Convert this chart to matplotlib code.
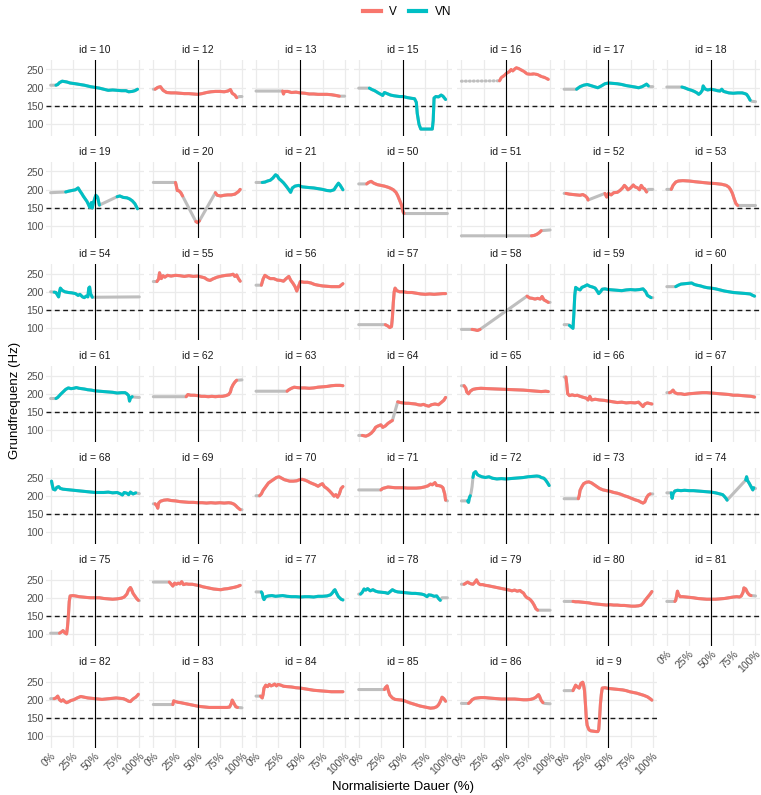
"""
plot.py - Grundfrequenz-Verläufe je Sprecher (facet grid)
"""
import numpy as np
import matplotlib
matplotlib.use("Agg")
import matplotlib.pyplot as plt
from matplotlib.lines import Line2D

plt.rcParams["font.family"] = ["Liberation Sans", "DejaVu Sans"]

# Panel order and group (V / VN) per id
ids = [10, 12, 13, 15, 16, 17, 18,
       19, 20, 21, 50, 51, 52, 53,
       54, 55, 56, 57, 58, 59, 60,
       61, 62, 63, 64, 65, 66, 67,
       68, 69, 70, 71, 72, 73, 74,
       75, 76, 77, 78, 79, 80, 81,
       82, 83, 84, 85, 86, 9]
groups = ["VN", "V", "V", "VN", "V", "VN", "VN",
          "VN", "V", "VN", "V", "V", "V", "V",
          "VN", "V", "V", "V", "V", "VN", "VN",
          "VN", "V", "V", "V", "V", "V", "V",
          "VN", "V", "V", "V", "VN", "V", "VN",
          "V", "V", "VN", "VN", "V", "V", "V",
          "V", "V", "V", "V", "V", "V"]
dotted_grey = [16]  # sparse interpolated frames show up as dots

x_ticks = [0, 25, 50, 75, 100]
x_ticklabels = ["0%", "25%", "50%", "75%", "100%"]
y_ticks = [100, 150, 200, 250]

# F0 contours: (x %, Hz) voiced; (x, Hz, 0) interpolated only; None = gap
f0_10 = [(0, 207, 0), (6, 207), (8, 209), (10, 214), (13, 218), (18, 216), (22, 213), (28, 211), (33, 209),
         (38, 207), (45, 203), (50, 201), (55, 199), (60, 196), (65, 193), (70, 194), (75, 193),
         (80, 192), (85, 192), (88, 189), (92, 190), (95, 192), (98, 196)]
f0_12 = [(0, 196, 0), (2, 196), (5, 201), (8, 203), (11, 193), (15, 187), (20, 186), (25, 186), (30, 185),
         (35, 184), (40, 184), (45, 183), (50, 182), (55, 184), (60, 187), (65, 189), (70, 190),
         (75, 190), (80, 189), (84, 191), (87, 195), (89, 185), (92, 180), (94, 173),
         (97, 176, 0), (100, 176, 0)]
f0_13 = [(0, 191, 0), (30, 191), (31, 183), (32, 190), (36, 190), (40, 187), (45, 188), (50, 186),
         (55, 185), (60, 183), (65, 183), (70, 182), (75, 182), (80, 182), (85, 181), (90, 179),
         (94, 177), (100, 177, 0)]
f0_15 = [(0, 199, 0), (12, 199), (15, 195), (18, 192), (22, 186), (25, 182), (27, 179), (29, 187),
         (32, 184), (36, 180), (40, 178), (46, 176), (50, 176), (55, 173), (60, 171), (63, 170),
         (65, 160), (66, 130), (68, 100), (70, 87), (83, 87), (84, 110), (85, 172), (87, 176),
         (90, 175), (93, 180), (95, 177), (98, 168)]
f0_16 = [(0, 218, 0), (43, 219), (45, 228), (48, 233), (51, 240), (54, 244), (56, 250), (58, 246),
         (60, 251), (62, 255), (65, 252), (68, 248), (71, 244), (74, 238), (78, 237), (82, 238),
         (86, 236), (90, 231), (94, 228), (98, 223)]
f0_17 = [(0, 196, 0), (14, 196), (18, 203), (22, 207), (26, 209), (30, 206), (34, 203), (38, 200),
         (42, 205), (46, 211), (50, 213), (55, 212), (60, 211), (65, 209), (70, 206), (75, 204),
         (80, 202), (84, 200), (88, 203), (91, 207), (93, 210), (95, 205), (97, 203, 0), (100, 203, 0)]
f0_18 = [(0, 202, 0), (17, 202), (20, 200), (24, 196), (28, 193), (31, 190), (34, 186), (36, 182),
         (38, 186), (40, 193), (41, 205), (43, 197), (46, 194), (50, 196), (54, 194), (57, 192),
         (60, 191), (62, 196), (64, 190), (67, 188), (70, 186), (75, 185), (80, 186), (85, 186),
         (88, 184), (90, 182), (92, 175), (94, 166), (96, 163, 0), (100, 162, 0)]
f0_19 = [(0, 192, 0), (17, 194), (20, 196), (24, 198), (28, 200), (31, 205), (33, 197), (35, 190),
         (37, 182), (39, 175), (41, 168), (43, 158), (44, 152), (45, 157), (46, 165), (47, 150),
         (48, 162), (50, 178), (51, 185), (53, 180), (55, 158), None, (75, 181), (78, 183),
         (82, 179), (86, 178), (89, 175), (92, 170), (95, 162), (98, 148)]
f0_20 = [(0, 220, 0), (25, 220), (26, 210), (27, 198), (29, 197), (31, 192), (33, 183), None,
         (48, 113), (50, 110), (52, 115), None, (70, 192), (72, 185), (76, 183), (80, 185),
         (84, 186), (88, 186), (92, 188), (96, 195), (98, 201)]
f0_21 = [(0, 220, 0), (7, 220), (10, 221), (13, 224), (16, 226), (19, 232), (22, 241), (24, 238),
         (26, 230), (28, 226), (31, 219), (34, 210), (37, 200), (39, 193), (41, 205), (44, 210),
         (48, 212), (52, 208), (56, 207), (60, 206), (65, 205), (70, 203), (75, 201), (80, 198),
         (84, 197), (88, 200), (90, 208), (93, 218), (95, 212), (98, 200)]
f0_50 = [(0, 216, 0), (9, 216), (11, 220), (14, 223), (17, 218), (21, 214), (25, 212), (29, 210),
         (33, 207), (36, 204), (39, 200), (42, 193), (44, 184), (46, 172), (48, 160), (50, 140),
         (51, 135), (100, 135, 0)]
f0_51 = [(0, 74, 0), (79, 74), (82, 75), (85, 78), (88, 83), (90, 88), (100, 90, 0)]
f0_52 = [(0, 190, 0), (2, 190), (6, 188), (10, 187), (14, 186), (18, 185), (21, 187), (24, 183),
         (26, 178), (27, 172), None, (46, 190), (48, 180), (50, 190), (53, 186), (56, 192),
         (60, 193), (63, 198), (66, 205), (68, 212), (70, 207), (72, 200), (75, 205), (78, 213),
         (80, 208), (83, 205), (85, 200), (87, 212), (89, 205), (91, 202), (93, 194),
         (95, 201, 0), (100, 201, 0)]
f0_53 = [(0, 201, 0), (5, 201), (7, 212), (10, 221), (13, 224), (18, 225), (25, 224), (32, 222),
         (40, 220), (48, 218), (55, 217), (62, 215), (67, 212), (70, 207), (72, 200), (74, 190),
         (76, 175), (78, 162), (80, 157), (100, 157, 0)]
f0_54 = [(0, 200, 0), (4, 199), (6, 198), (8, 190), (9, 186), (10, 200), (11, 210), (13, 204),
         (16, 200), (20, 198), (24, 197), (28, 195), (31, 190), (33, 193), (36, 186), (38, 184),
         (40, 188), (42, 186), (43, 210), (44, 213), (45, 195), (47, 185), (100, 186, 0)]
f0_55 = [(0, 228, 0), (4, 228), (6, 235), (7, 252), (9, 236), (11, 244), (13, 240), (16, 245),
         (20, 243), (25, 245), (30, 244), (35, 242), (40, 244), (45, 242), (50, 243), (55, 240),
         (58, 238), (61, 233), (64, 231), (67, 235), (72, 240), (77, 243), (82, 245), (87, 246),
         (90, 248), (92, 242), (94, 246), (96, 236), (98, 229)]
f0_56 = [(0, 218, 0), (6, 218), (8, 235), (10, 245), (13, 240), (16, 236), (20, 236), (24, 232),
         (28, 231), (31, 229), (34, 236), (37, 242), (39, 232), (42, 222), (44, 214), (46, 202),
         (48, 215), (50, 228), (54, 226), (58, 226), (62, 224), (66, 220), (70, 218), (75, 216),
         (80, 215), (85, 214), (90, 214), (94, 214), (96, 218), (98, 222)]
f0_57 = [(0, 110, 0), (28, 110, 0), (30, 110), (33, 106), (35, 102), (37, 105), (38, 130), (39, 170),
         (40, 200), (41, 210), (43, 203), (46, 200), (50, 200), (55, 198), (60, 198), (65, 196),
         (70, 194), (75, 193), (80, 194), (85, 193), (90, 194), (95, 195), (98, 195)]
f0_58 = [(0, 97, 0), (12, 97), (15, 96), (18, 94), (21, 97), None, (74, 188), (77, 183), (80, 182),
         (83, 180), (86, 182), (89, 180), (91, 187), (93, 178), (96, 174), (98, 171), (100, 171, 0)]
f0_59 = [(0, 110, 0), (5, 110, 0), (6, 108), (8, 104), (10, 100), (11, 140), (12, 190), (13, 212),
         (15, 208), (18, 205), (20, 212), (23, 215), (26, 219), (29, 215), (32, 213), (35, 210),
         (37, 203), (39, 195), (41, 200), (43, 207), (46, 208), (50, 206), (55, 205), (60, 204),
         (65, 203), (70, 205), (75, 206), (80, 205), (85, 206), (89, 208), (92, 200), (94, 190),
         (96, 187), (98, 184), (100, 184, 0)]
f0_60 = [(0, 214, 0), (10, 214), (13, 218), (16, 221), (20, 222), (24, 223), (28, 224), (31, 220),
         (34, 218), (38, 216), (42, 213), (46, 211), (50, 210), (55, 208), (60, 205), (65, 202),
         (70, 200), (75, 198), (80, 197), (85, 196), (90, 195), (94, 194), (97, 190), (99, 188)]
f0_61 = [(0, 187, 0), (6, 187), (8, 190), (11, 198), (14, 205), (17, 212), (20, 216), (23, 214),
         (26, 215), (29, 217), (32, 215), (35, 214), (38, 213), (42, 211), (46, 210), (50, 208),
         (55, 207), (60, 206), (65, 205), (70, 204), (75, 202), (80, 203), (84, 203), (86, 200),
         (88, 195), (89, 180), (90, 188), (92, 192), (94, 191, 0), (100, 190, 0)]
f0_62 = [(0, 192, 0), (37, 192), (39, 198), (42, 196), (46, 196), (50, 195), (54, 193), (58, 193),
         (62, 192), (66, 193), (70, 192), (74, 193), (78, 193), (82, 195), (85, 198), (87, 205),
         (88, 215), (90, 225), (92, 232), (94, 237), (100, 238, 0)]
f0_63 = [(0, 207, 0), (35, 207), (37, 211), (40, 215), (43, 218), (46, 217), (50, 216), (55, 216),
         (60, 215), (65, 216), (70, 218), (75, 219), (80, 220), (85, 222), (90, 223), (95, 223),
         (98, 222)]
f0_64 = [(0, 86, 0), (3, 86, 0), (4, 86), (8, 84), (11, 87), (14, 92), (17, 100), (19, 108), (21, 111),
         (23, 113), (25, 115), (27, 108), (30, 112), (33, 119), (36, 124), (38, 127), None,
         (44, 178), (47, 176), (50, 175), (53, 174), (56, 174), (60, 173), (64, 172), (67, 170),
         (70, 169), (73, 171), (76, 168), (79, 166), (82, 170), (86, 172), (90, 170), (93, 176),
         (96, 182), (98, 190)]
f0_65 = [(0, 222, 0), (3, 222), (5, 215), (6, 205), (8, 200), (10, 207), (13, 212), (17, 214),
         (22, 215), (30, 214), (40, 213), (50, 212), (60, 211), (70, 210), (80, 208), (85, 207),
         (90, 206), (95, 207), (98, 206)]
f0_66 = [(0, 246, 0), (2, 246), (3, 225), (4, 200), (6, 195), (9, 197), (12, 195), (15, 196),
         (18, 193), (22, 190), (25, 188), (27, 183), (29, 193), (31, 183), (35, 185), (40, 183),
         (45, 182), (50, 180), (55, 178), (60, 176), (65, 177), (70, 175), (75, 176), (80, 175),
         (84, 177), (87, 170), (89, 165), (91, 172), (94, 175), (97, 173), (99, 172)]
f0_67 = [(0, 203, 0), (3, 203), (5, 205), (7, 210), (9, 203), (12, 200), (16, 200), (20, 198),
         (25, 200), (30, 201), (35, 202), (40, 203), (45, 203), (50, 202), (55, 201), (60, 200),
         (65, 199), (70, 198), (75, 196), (80, 196), (85, 195), (90, 194), (95, 193), (99, 191)]
f0_68 = [(1, 240), (2, 228), (3, 218), (5, 216), (7, 223), (9, 225), (11, 220), (14, 218), (18, 217),
         (22, 216), (26, 215), (30, 214), (34, 213), (38, 212), (42, 211), (46, 210), (50, 209),
         (55, 209), (60, 209), (65, 210), (70, 208), (75, 209), (79, 205), (81, 202), (83, 209),
         (86, 207), (88, 203), (90, 210), (93, 205), (96, 208), (100, 206, 0)]
f0_69 = [(0, 178, 0), (2, 178), (4, 172), (5, 166), (6, 180), (8, 185), (12, 188), (16, 189),
         (20, 187), (25, 186), (30, 184), (35, 183), (40, 182), (45, 182), (50, 181), (55, 181),
         (60, 180), (65, 181), (70, 180), (75, 181), (80, 180), (85, 181), (88, 180), (91, 177),
         (93, 173), (95, 168), (98, 162), (100, 162, 0)]
f0_70 = [(0, 200, 0), (4, 200), (6, 205), (8, 215), (11, 225), (14, 235), (17, 240), (20, 245),
         (23, 250), (26, 252), (29, 248), (32, 244), (35, 242), (38, 240), (42, 240), (46, 241),
         (49, 244), (52, 245), (55, 243), (58, 240), (61, 236), (64, 233), (67, 230), (70, 226),
         (73, 231), (75, 233), (77, 225), (80, 220), (83, 213), (86, 205), (88, 199), (90, 203),
         (92, 196), (94, 205), (96, 220), (98, 225)]
f0_71 = [(0, 216, 0), (25, 216), (27, 220), (30, 222), (33, 224), (37, 223), (41, 222), (45, 222),
         (50, 222), (55, 221), (60, 221), (65, 221), (70, 222), (74, 224), (78, 227), (81, 232),
         (83, 230), (86, 236), (88, 228), (90, 228), (93, 226), (95, 222), (97, 205), (98, 188),
         (100, 186, 0)]
f0_72 = [(0, 186, 0), (7, 186), (8, 182), (9, 195), (10, 200), (11, 210, 0), (12, 225, 0), (13, 250),
         (14, 262), (16, 266), (18, 258), (20, 255), (23, 252), (27, 250), (31, 252), (35, 248),
         (40, 246), (45, 247), (50, 246), (55, 247), (60, 248), (65, 249), (70, 250), (75, 252),
         (80, 253), (85, 254), (88, 253), (90, 250), (93, 248), (95, 243), (97, 236), (99, 228)]
f0_73 = [(0, 192, 0), (16, 192), (17, 200), (18, 215), (20, 225), (22, 233), (25, 237), (28, 238),
         (31, 235), (34, 230), (37, 225), (40, 220), (44, 216), (48, 214), (52, 212), (56, 209),
         (60, 207), (64, 204), (68, 200), (72, 197), (76, 193), (80, 189), (84, 186), (87, 182),
         (89, 180), (91, 183), (93, 195), (95, 202), (97, 205), (100, 205, 0)]
f0_74 = [(0, 208, 0), (5, 208), (6, 193), (7, 205), (9, 213), (12, 215), (16, 214), (20, 215),
         (25, 214), (30, 214), (35, 213), (40, 212), (45, 211), (50, 210), (55, 208), (60, 205),
         (63, 203), (65, 198), (67, 192), (68, 188), None, (89, 243), (90, 252), (91, 242),
         (93, 234), (95, 225), (97, 216), (98, 222), (100, 220, 0)]
f0_75 = [(0, 103, 0), (10, 103), (12, 106), (14, 110), (16, 104), (18, 101), (19, 120), (20, 150),
         (21, 190), (22, 205), (25, 206), (28, 205), (32, 203), (36, 202), (40, 201), (45, 200),
         (50, 200), (55, 200), (60, 198), (65, 197), (70, 196), (75, 197), (80, 199), (83, 202),
         (86, 210), (88, 222), (90, 228), (91, 224), (93, 212), (95, 205), (97, 198), (99, 193),
         (100, 192, 0)]
f0_76 = [(0, 243, 0), (18, 243), (20, 238), (22, 232), (24, 240), (26, 237), (28, 240), (30, 238),
         (32, 244), (34, 236), (37, 238), (40, 237), (44, 237), (48, 235), (52, 233), (56, 230),
         (60, 228), (64, 226), (68, 224), (72, 223), (76, 222), (80, 224), (84, 225), (88, 227),
         (92, 229), (95, 231), (98, 234)]
f0_77 = [(0, 216, 0), (6, 216), (7, 212), (8, 200), (9, 195), (11, 203), (14, 205), (18, 206),
         (22, 204), (26, 205), (30, 206), (35, 204), (40, 203), (45, 203), (50, 202), (55, 203),
         (60, 203), (65, 202), (70, 204), (75, 204), (80, 205), (84, 208), (86, 213), (88, 220),
         (89, 222), (91, 212), (93, 203), (96, 196), (98, 194)]
f0_78 = [(0, 210, 0), (2, 210), (4, 215), (6, 224), (8, 221), (10, 225), (13, 219), (16, 222),
         (19, 218), (22, 216), (26, 215), (30, 214), (33, 212), (36, 218), (38, 222), (41, 218),
         (44, 216), (48, 215), (52, 214), (56, 213), (60, 212), (64, 212), (68, 211), (71, 210),
         (74, 208), (77, 203), (79, 208), (82, 207), (85, 204), (88, 205), (90, 198), (92, 193),
         (94, 200, 0), (100, 200, 0)]
f0_79 = [(0, 237, 0), (3, 237), (5, 240), (7, 243), (9, 240), (11, 238), (13, 237), (15, 242),
         (17, 249), (19, 240), (21, 236), (24, 236), (27, 234), (30, 233), (34, 231), (38, 229),
         (42, 227), (46, 225), (50, 223), (54, 221), (57, 219), (60, 221), (63, 218), (66, 220),
         (68, 216), (70, 213), (72, 205), (74, 200), (76, 198), (78, 194), (80, 188), (82, 180),
         (84, 170), (86, 166), (100, 166, 0)]
f0_80 = [(0, 190, 0), (10, 190), (13, 189), (16, 189), (20, 188), (24, 187), (28, 186), (32, 184),
         (36, 183), (40, 182), (44, 181), (48, 180), (52, 181), (56, 180), (60, 180), (64, 179),
         (68, 179), (72, 178), (76, 177), (80, 177), (84, 178), (87, 180), (89, 185), (91, 192),
         (93, 198), (95, 204), (97, 210), (99, 217)]
f0_81 = [(0, 190, 0), (9, 190), (10, 193), (11, 205), (12, 218), (13, 210), (15, 203), (18, 203),
         (22, 202), (26, 201), (30, 200), (35, 198), (40, 197), (45, 196), (50, 196), (55, 196),
         (60, 197), (65, 198), (70, 200), (75, 202), (79, 203), (82, 202), (84, 205), (86, 215),
         (87, 227), (89, 224), (91, 214), (93, 208), (95, 206), (100, 205, 0)]
f0_82 = [(0, 203, 0), (4, 203), (6, 205), (8, 210), (10, 200), (12, 196), (14, 200), (16, 195),
         (18, 192), (20, 194), (23, 198), (26, 200), (30, 205), (34, 209), (38, 207), (42, 205),
         (46, 204), (50, 203), (54, 202), (58, 201), (62, 202), (66, 203), (70, 204), (74, 205),
         (78, 204), (82, 203), (85, 200), (88, 196), (90, 195), (92, 200), (94, 204), (96, 207),
         (98, 212), (99, 215)]
f0_83 = [(0, 187, 0), (22, 187), (23, 197), (25, 195), (28, 193), (31, 192), (35, 190), (39, 188),
         (43, 186), (47, 184), (51, 182), (55, 181), (59, 180), (63, 179), (67, 179), (71, 179),
         (75, 179), (79, 179), (83, 179), (86, 180), (88, 190), (89, 199), (91, 190), (93, 181),
         (95, 179), (100, 178, 0)]
f0_84 = [(0, 210, 0), (5, 210), (7, 205), (8, 215), (9, 232), (11, 240), (13, 236), (15, 242),
         (17, 238), (19, 240), (21, 243), (23, 238), (25, 242), (28, 240), (31, 237), (35, 236),
         (40, 235), (45, 233), (50, 232), (55, 230), (60, 228), (65, 226), (70, 225), (75, 224),
         (80, 223), (85, 222), (90, 222), (95, 222), (98, 222)]
f0_85 = [(0, 228, 0), (29, 228), (30, 233), (32, 238), (33, 228), (35, 213), (38, 205), (41, 201),
         (45, 200), (49, 199), (53, 196), (57, 192), (61, 189), (65, 186), (69, 183), (73, 181),
         (77, 179), (81, 177), (85, 178), (88, 181), (90, 186), (92, 195), (94, 207), (96, 203),
         (98, 196)]
f0_86 = [(0, 190, 0), (8, 190), (10, 194), (12, 200), (15, 204), (18, 205), (22, 206), (26, 206),
         (30, 205), (35, 204), (40, 203), (45, 202), (50, 202), (55, 202), (60, 202), (65, 201),
         (70, 200), (74, 200), (78, 201), (81, 203), (84, 207), (86, 212), (87, 214), (88, 210),
         (90, 198), (92, 192), (94, 190, 0), (100, 189, 0)]
f0_9 = [(0, 225, 0), (10, 225), (11, 230), (13, 240), (15, 235), (17, 232), (19, 245), (21, 248),
        (22, 240), (23, 225), (24, 190), (25, 150), (26, 130), (28, 118), (30, 115), (33, 114),
        (36, 113), (38, 113), (39, 118), (40, 150), (41, 190), (42, 215), (43, 232), (46, 233),
        (50, 231), (54, 230), (58, 229), (62, 228), (66, 227), (70, 225), (74, 222), (78, 220),
        (82, 218), (86, 215), (90, 212), (94, 208), (97, 203), (99, 199)]

contours = [f0_10, f0_12, f0_13, f0_15, f0_16, f0_17, f0_18,
            f0_19, f0_20, f0_21, f0_50, f0_51, f0_52, f0_53,
            f0_54, f0_55, f0_56, f0_57, f0_58, f0_59, f0_60,
            f0_61, f0_62, f0_63, f0_64, f0_65, f0_66, f0_67,
            f0_68, f0_69, f0_70, f0_71, f0_72, f0_73, f0_74,
            f0_75, f0_76, f0_77, f0_78, f0_79, f0_80, f0_81,
            f0_82, f0_83, f0_84, f0_85, f0_86, f0_9]

COLORS = {"V": "#F8766D", "VN": "#00BFC4"}
GREY = "#BEBEBE"
GRID = "#EBEBEB"
TXT = "#4D4D4D"
LW = 2.2

# Layout (pixel units of the 761x795 output)
W, H = 761, 795
NCOL = 7
LEFT0, PITCH_X, PW = 46.2, 102.7, 97.5
TOP0, PITCH_Y, PH = 60.0, 102.0, 76.0


def draw_panel(ax, pts, colour, dotted=False):
    gx = [p[0] for p in pts if p is not None]
    gy = [p[1] for p in pts if p is not None]
    if dotted:
        ax.plot(gx, gy, color=GREY, lw=LW, ls=(0, (0.3, 1.0)),
                dash_capstyle="round", zorder=3)
    else:
        ax.plot(gx, gy, color=GREY, lw=LW, solid_capstyle="round", zorder=3)
    cx, cy = [], []
    for p in pts:
        if p is None or len(p) == 3:
            cx.append(np.nan)
            cy.append(np.nan)
        else:
            cx.append(p[0])
            cy.append(p[1])
    ax.plot(cx, cy, color=colour, lw=LW, solid_capstyle="round",
            solid_joinstyle="round", zorder=4)


fig = plt.figure(figsize=(W / 100, H / 100), dpi=100)
n = len(ids)
for k, (pid, grp, pts) in enumerate(zip(ids, groups, contours)):
    r, c = divmod(k, NCOL)
    left = LEFT0 + PITCH_X * c
    top = TOP0 + PITCH_Y * r
    ax = fig.add_axes([left / W, 1 - (top + PH) / H, PW / W, PH / H])
    ax.set_xlim(-5, 105)
    ax.set_ylim(68, 276)
    for s in ax.spines.values():
        s.set_visible(False)
    ax.set_xticks(x_ticks)
    ax.set_yticks(y_ticks)
    ax.grid(True, color=GRID, lw=0.9, zorder=0)
    ax.set_axisbelow(True)
    ax.tick_params(length=0, pad=2, labelsize=7.5, labelcolor=TXT)

    ax.axvline(50, color="black", lw=0.8, zorder=5)
    ax.axhline(150, color="#1A1A1A", lw=1.0, ls=(0, (3.5, 2.5)), zorder=2)
    draw_panel(ax, pts, COLORS[grp], dotted=pid in dotted_grey)

    ax.annotate(f"id = {pid}", xy=(0.5, 1.0), xycoords="axes fraction",
                xytext=(0, 7), textcoords="offset points",
                ha="center", va="center", fontsize=7.5, color="#1A1A1A")

    if c == 0:
        ax.set_yticklabels([str(v) for v in y_ticks])
    else:
        ax.set_yticklabels([])
    # x labels under the last panel of each column
    if k + NCOL >= n:
        ax.set_xticklabels(x_ticklabels, rotation=45, ha="right", va="top",
                           rotation_mode="anchor")
    else:
        ax.set_xticklabels([])

fig.text(15 / W, 1 - 400 / H, "Grundfrequenz (Hz)", rotation=90,
         ha="center", va="center", fontsize=9.5, color="black")
fig.text(403 / W, 1 - 787 / H, "Normalisierte Dauer (%)",
         ha="center", va="center", fontsize=9.5, color="black")

handles = [Line2D([], [], color=COLORS["V"], lw=3.0, label="V"),
           Line2D([], [], color=COLORS["VN"], lw=3.0, label="VN")]
fig.legend(handles=handles, loc="center", bbox_to_anchor=(407 / W, 1 - 12 / H),
           ncol=2, frameon=False, fontsize=8.5, handlelength=1.5,
           handletextpad=0.7, columnspacing=1.0)

fig.savefig("out.png", dpi=100)
plt.close(fig)
